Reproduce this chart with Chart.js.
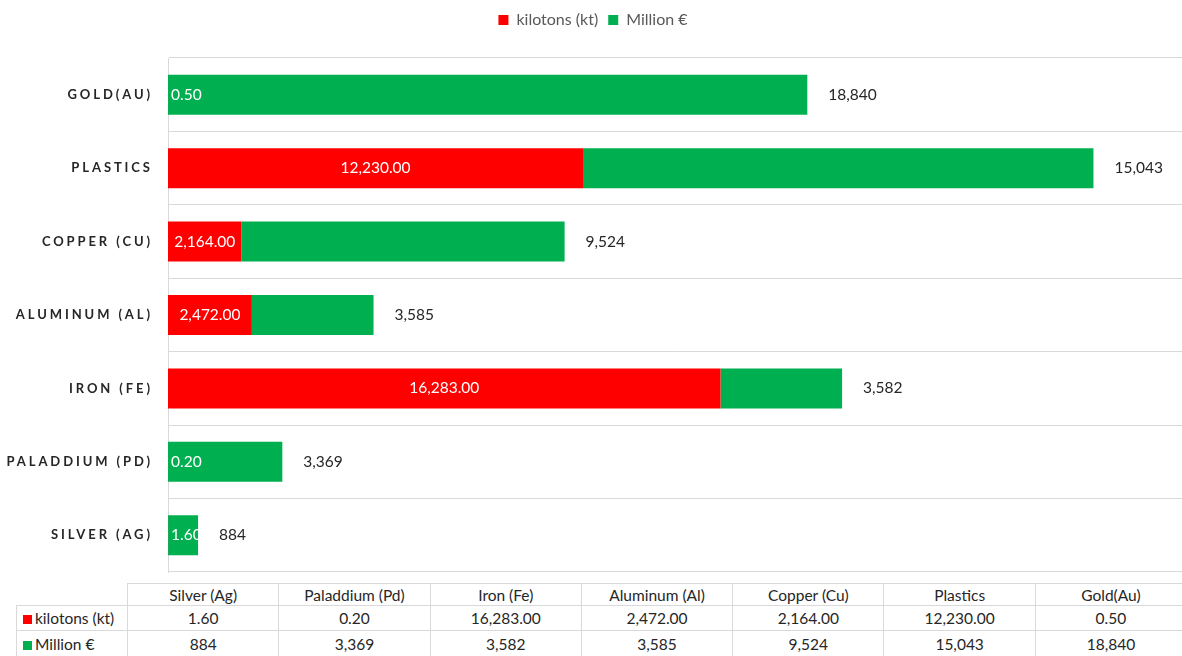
<!DOCTYPE html>
<html>
<head>
<meta charset="utf-8">
<script src="https://cdn.jsdelivr.net/npm/chart.js@4.4.1/dist/chart.umd.min.js"></script>
<style>
  html, body { margin: 0; padding: 0; background: #fff; }
  body { width: 1182px; height: 656px; position: relative; overflow: hidden; font-family: Lato, 'Open Sans', sans-serif; }
  #chartBox { position: absolute; left: 0; top: 0; width: 1186px; height: 573px; }
  #dataTable { position: absolute; left: 16px; top: 583px; border-collapse: collapse; table-layout: fixed; width: 1170px; font-size: 15.5px; color: #262626; }
  #dataTable td { border: 1px solid #d9d9d9; text-align: center; padding: 0; height: 23px; white-space: nowrap; overflow: hidden; }
  #dataTable td.rowHead { text-align: left; padding-left: 6px; }
  #dataTable td.blank { border: none; border-right: 1px solid #d9d9d9; }
  .key { display: inline-block; width: 9px; height: 9px; margin-right: 3px; vertical-align: 0px; }
</style>
</head>
<body>
<div id="chartBox"><canvas id="metalsChart"></canvas></div>
<table id="dataTable"></table>
<script>
// Categories in table order; the bar axis is reversed so Silver sits at the bottom
const materials = ['Silver (Ag)', 'Paladdium (Pd)', 'Iron (Fe)', 'Aluminum (Al)', 'Copper (Cu)', 'Plastics', 'Gold(Au)'];
const kilotons = [1.60, 0.20, 16283.00, 2472.00, 2164.00, 12230.00, 0.50];
const millionEur = [884, 3369, 3582, 3585, 9524, 15043, 18840];
const seriesNames = ['kilotons (kt)', 'Million €'];
const seriesColors = ['#ff0000', '#00b050'];

const fmtKt = v => v.toLocaleString('en-US', { minimumFractionDigits: 2, maximumFractionDigits: 2 });
const fmtEur = v => v.toLocaleString('en-US', { maximumFractionDigits: 0 });

// Data table under the chart
function buildTable() {
  const table = document.getElementById('dataTable');
  let html = '<colgroup><col style="width:111px">';
  materials.forEach(() => { html += '<col style="width:151.3px">'; });
  html += '</colgroup><tr><td class="blank rowHead"></td>';
  materials.forEach(m => { html += '<td>' + m + '</td>'; });
  html += '</tr>';
  const rows = [kilotons.map(fmtKt), millionEur.map(fmtEur)];
  rows.forEach((vals, i) => {
    html += '<tr><td class="rowHead"><span class="key" style="background:' + seriesColors[i] + '"></span>' + seriesNames[i] + '</td>';
    vals.forEach(v => { html += '<td>' + v + '</td>'; });
    html += '</tr>';
  });
  table.innerHTML = html;
  const trs = table.querySelectorAll('tr');
  trs[0].querySelectorAll('td').forEach(td => td.style.height = '21px');
  trs[1].querySelectorAll('td').forEach(td => td.style.height = '24px');
  trs[2].querySelectorAll('td').forEach(td => td.style.height = '25px');
}
buildTable();

// Spaced capital labels on the category axis
const categoryLabels = {
  id: 'categoryLabels',
  afterDraw(chart) {
    const ctx = chart.ctx;
    const yScale = chart.scales.y;
    const spacing = 2.9;
    ctx.save();
    ctx.font = 'bold 13px Lato, sans-serif';
    ctx.fillStyle = '#262626';
    ctx.textAlign = 'right';
    ctx.textBaseline = 'middle';
    ctx.letterSpacing = spacing + 'px';
    materials.forEach((m, i) => {
      const y = yScale.getPixelForValue(i);
      ctx.fillText(m.toUpperCase(), chart.chartArea.left - 18 + spacing, y);
    });
    ctx.restore();
  }
};

// Value labels: kilotons inside the red part, totals after the green part
const valueLabels = {
  id: 'valueLabels',
  afterDatasetsDraw(chart) {
    const ctx = chart.ctx;
    ctx.save();
    ctx.font = '15.5px Lato, sans-serif';
    ctx.textBaseline = 'middle';
    const ktMeta = chart.getDatasetMeta(0);
    ktMeta.data.forEach((bar, i) => {
      const text = fmtKt(kilotons[i]);
      const w = ctx.measureText(text).width;
      let cx = (bar.base + bar.x) / 2;
      cx = Math.max(cx, chart.chartArea.left + w / 2 + 3);
      ctx.fillStyle = '#ffffff';
      ctx.textAlign = 'center';
      ctx.fillText(text, cx, bar.y);
    });
    const eurMeta = chart.getDatasetMeta(1);
    eurMeta.data.forEach((bar, i) => {
      ctx.fillStyle = '#262626';
      ctx.textAlign = 'left';
      ctx.fillText(fmtEur(millionEur[i]), bar.x + 21, bar.y);
    });
    ctx.restore();
  }
};

const ctx = document.getElementById('metalsChart').getContext('2d');
const metalsChart = new Chart(ctx, {
  type: 'bar',
  data: {
    labels: materials,
    datasets: [
      { label: seriesNames[0], data: kilotons, backgroundColor: seriesColors[0] },
      { label: seriesNames[1], data: millionEur, backgroundColor: seriesColors[1] }
    ]
  },
  options: {
    indexAxis: 'y',
    responsive: true,
    maintainAspectRatio: false,
    animation: false,
    layout: { padding: { top: 2, right: 0, bottom: 1, left: 0 } },
    datasets: { bar: { barPercentage: 0.545, categoryPercentage: 1.0 } },
    plugins: {
      legend: {
        position: 'top',
        labels: {
          boxWidth: 10,
          boxHeight: 10,
          padding: 10,
          color: '#595959',
          font: { family: 'Lato', size: 16 }
        }
      },
      tooltip: { enabled: false }
    },
    scales: {
      // value axis kept invisible; it only leaves a gap under the legend
      x: {
        stacked: true,
        position: 'top',
        min: 0,
        max: 30000,
        afterFit(scale) { scale.height = 20; },
        ticks: { display: false },
        grid: { display: false },
        border: { display: false }
      },
      y: {
        stacked: true,
        reverse: true,
        afterFit(scale) { scale.width = 168; },
        ticks: { display: false },
        grid: { color: '#d9d9d9', drawTicks: false, offset: true },
        border: { color: '#d9d9d9' }
      }
    }
  },
  plugins: [categoryLabels, valueLabels]
});
</script>
</body>
</html>
